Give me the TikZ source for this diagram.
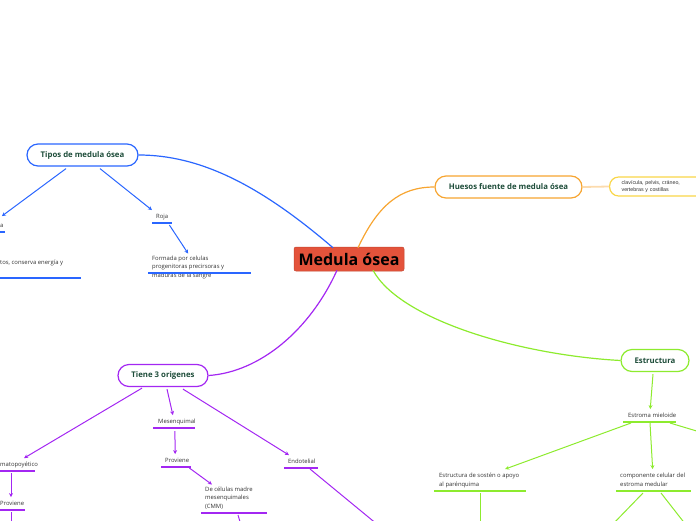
\documentclass[tikz,border=0pt]{standalone}
\usepackage{fontspec}
\setmainfont{Open Sans}
\newfontfamily\libsans{Liberation Sans}
\usetikzlibrary{arrows.meta}
\definecolor{cblue}{HTML}{2A66FF}
\definecolor{corange}{HTML}{F7A531}
\definecolor{cyellow}{HTML}{F9D648}
\definecolor{cpurple}{HTML}{A327F2}
\definecolor{cgreen}{HTML}{8DEB2E}
\definecolor{cred}{HTML}{E4533B}
\definecolor{ctxt}{HTML}{1E4D3A}
\definecolor{cgray}{HTML}{333333}
\begin{document}
\begin{tikzpicture}[x=1pt,y=-1pt,
  mainbox/.style={fill=cred, draw=cred!85!black, line width=0.5pt, rounded corners=2pt, minimum width=110pt, minimum height=24pt, inner sep=0pt, font=\fontsize{16}{19}\selectfont\bfseries, text=black},
  pill/.style={draw, rounded corners=11pt, line width=1.2pt, fill=white, font=\fontsize{7.8}{9}\selectfont\bfseries, text=ctxt, minimum height=22pt, inner sep=0pt},
  hleaf/.style={draw=cyellow, line width=1.2pt, rounded corners=9pt, fill=white, minimum height=19pt, minimum width=110pt, text width=86pt, inner xsep=12pt, inner ysep=0pt, align=left, font=\libsans\fontsize{5.3}{6.2}\selectfont, text=cgray, anchor=west},
  lf/.style={inner xsep=4pt, inner ysep=2pt, font=\fontsize{5.9}{8.5}\selectfont, text=cgray, align=left, execute at end node=\strut, anchor=south west},
  ul/.style={line width=1.5pt},
  lwone/.style={line width=1pt},
  con/.style={line width=1pt, -{Stealth[length=4pt,width=4pt]}},
  curv/.style={line width=1.2pt}]
\useasboundingbox (0,0) rectangle (696,520);
\clip (0,0) rectangle (696,520);

% main nodes
\node[mainbox] (mo) at (349,259) {Medula ósea};
\node[pill, draw=cblue, minimum width=111pt] (tipos) at (82.5,155) {Tipos de medula ósea};
\node[pill, draw=corange, minimum width=147pt] (huesos) at (508.5,187) {Huesos fuente de medula ósea};
\node[pill, draw=cpurple, minimum width=90pt] (tiene) at (163,375.5) {Tiene 3 origenes};
\node[pill, draw=cgreen, minimum width=68pt] (estr) at (655,360.5) {Estructura};
\node[hleaf] (hleaf) at (609,186.5) {clavícula, pelvis, cráneo,\\vertebras y costillas};

% curves from the centre
\draw[cblue, curv] (mo.north) ++(-16,1) .. controls (260,185) and (200,155) .. (tipos.east);
\draw[corange, curv] (mo.north) ++(9,1) .. controls (378,205) and (400,187) .. (huesos.west);
\draw[cpurple, curv] (mo.south) ++(-12,-1) .. controls (310,330) and (260,372) .. (tiene.east);
\draw[cgreen, curv] (mo.south) ++(24,-1) .. controls (400,320) and (520,355) .. (estr.west);
\draw[corange!40, line width=1.8pt] (huesos.east) -- (hleaf.west);

% blue branch
\node[lf] (amar) at (-4,232) {a};
\draw[cblue, ul] (amar.south west) -- ++(9,0);
\draw[cblue, con] (tipos.south) ++(-16.5,2) -- ([yshift=3pt]amar.north);
\node[lf] (amard) at (-4,269) {tos, conserva energía y};
\draw[cblue, ul] (amard.south west) ++(0,9) -- ++(85,0);
\node[lf] (roja) at (152,223) {Roja};
\draw[cblue, ul] (roja.south west) -- (roja.south east);
\draw[cblue, con] (tipos.south) ++(17.5,2) -- (roja.north west);
\node[lf] (rojac) at (148,282) {Formada por celulas\\progenitoras precirsoras y\\maduras de la sangre};
\draw[cblue, ul] (rojac.south west) ++(0,-9) -- ++(103,0);
\draw[cblue, con] (roja.south east) ++(-3,2) -- (rojac.north);

% purple branch
\coordinate (pe1) at (11,525);
\coordinate (pe2) at (241,525);
\coordinate (pe3) at (378,525);
\node[lf] (hema) at (-4,471) {matopoyético};
\draw[cpurple, ul] (hema.south west) -- ++(39,0);
\draw[cpurple, con] (tiene.south) ++(-21,1) -- ([xshift=5pt]hema.north);
\node[lf] (provl) at (-4,510) {Proviene};
\draw[cpurple, ul] (provl.south west) -- ++(29,0);
\draw[cpurple, con] (hema.south west) ++(15,2) -- ([xshift=15pt]provl.north west);
\draw[cpurple, lwone] (provl.south west) ++(15,2) -- (pe1);
\node[lf] (mes) at (154,428) {Mesenquimal};
\draw[cpurple, ul] (mes.south west) ++(-1,0) -- ++(42,0);
\draw[cpurple, con] (tiene.south) ++(4,2) -- ([xshift=-4pt]mes.north);
\node[lf] (provm) at (161,467) {Proviene};
\draw[cpurple, ul] (provm.south west) -- ++(30,0);
\draw[cpurple, con] (mes.south) ++(-2,3) -- ([xshift=-2pt]provm.north);
\node[lf] (cmm) at (201,513) {De células madre\\mesenquimales\\(CMM)};
\draw[cpurple, ul] (cmm.south west) -- ++(66,0);
\draw[cpurple, con] (provm.south east) ++(-4,1) -- ([xshift=11pt]cmm.north west);
\draw[cpurple, lwone] (cmm.south west) ++(37,2) -- (pe2);
\node[lf] (endo) at (284,468) {Endotelial};
\draw[cpurple, ul] (endo.south west) -- ++(34,0);
\draw[cpurple, con] (tiene.south) ++(20,2) -- ([xshift=5pt]endo.north west);
\draw[cpurple, lwone] (endo.south west) ++(26,1) -- (pe3);

% green branch
\coordinate (ge1) at (480,525);
\coordinate (ge2) at (612,525);
\coordinate (ge3) at (686,525);
\coordinate (ge4) at (710,435);
\node[lf] (estroma) at (624,422) {Estroma mieloide};
\draw[cgreen, ul] (estroma.south west) ++(-1,0) -- ++(53,0);
\draw[cgreen, con] (estr.south) ++(-2,2) -- ([xshift=-2pt]estroma.north);
\node[lf] (sost) at (435,491) {Estructura de sostén o apoyo\\al parénquima};
\draw[cgreen, ul] (sost.south west) ++(-1,0) -- ++(92,0);
\draw[cgreen, con] (estroma.south west) ++(7,1) -- ([xshift=26pt,yshift=2pt]sost.north);
\draw[cgreen, lwone] (sost.south west) ++(45,2) -- (ge1);
\node[lf] (comp) at (616,491) {componente celular del\\estroma medular};
\draw[cgreen, ul] (comp.south west) -- ++(75,0);
\draw[cgreen, con] (estroma.south west) ++(26,1) -- ([yshift=2pt]comp.north);
\draw[cgreen, lwone] (comp.south west) ++(27,2) -- (ge2);
\draw[cgreen, lwone] (comp.south west) ++(45,2) -- (ge3);
\draw[cgreen, lwone] (estroma.south west) ++(46,1) -- (ge4);
\end{tikzpicture}
\end{document}
